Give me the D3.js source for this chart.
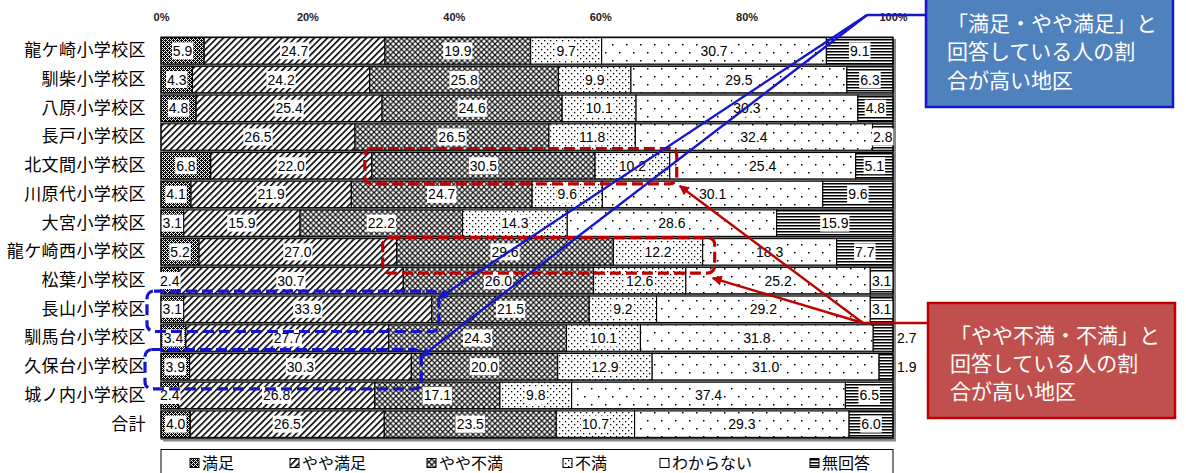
<!DOCTYPE html>
<html>
<head>
<meta charset="utf-8">
<script src="https://cdn.jsdelivr.net/npm/d3@7"></script>
<style>
  body { margin: 0; background: #fff; }
  svg { display: block; }
</style>
</head>
<body>
<svg id="chart" width="1186" height="473"></svg>
<script>
// School districts (rows, top to bottom)
const categories = [
  "龍ケ崎小学校区", "馴柴小学校区", "八原小学校区", "長戸小学校区", "北文間小学校区",
  "川原代小学校区", "大宮小学校区", "龍ケ崎西小学校区", "松葉小学校区", "長山小学校区",
  "馴馬台小学校区", "久保台小学校区", "城ノ内小学校区", "合計"
];
const seriesNames = ["満足", "やや満足", "やや不満", "不満", "わからない", "無回答"];

// Share of answers (%) per district
const satisfied            = [5.9, 4.3, 4.8, 0.0, 6.8, 4.1, 3.1, 5.2, 2.4, 3.1, 3.4, 3.9, 2.4, 4.0];
const somewhatSatisfied    = [24.7, 24.2, 25.4, 26.5, 22.0, 21.9, 15.9, 27.0, 30.7, 33.9, 27.7, 30.3, 26.8, 26.5];
const somewhatDissatisfied = [19.9, 25.8, 24.6, 26.5, 30.5, 24.7, 22.2, 29.6, 26.0, 21.5, 24.3, 20.0, 17.1, 23.5];
const dissatisfied         = [9.7, 9.9, 10.1, 11.8, 10.2, 9.6, 14.3, 12.2, 12.6, 9.2, 10.1, 12.9, 9.8, 10.7];
const dontKnow             = [30.7, 29.5, 30.3, 32.4, 25.4, 30.1, 28.6, 18.3, 25.2, 29.2, 31.8, 31.0, 37.4, 29.3];
const noAnswer             = [9.1, 6.3, 4.8, 2.8, 5.1, 9.6, 15.9, 7.7, 3.1, 3.1, 2.7, 1.9, 6.5, 6.0];

const tickValues = [0, 20, 40, 60, 80, 100];

const seriesValues = [satisfied, somewhatSatisfied, somewhatDissatisfied, dissatisfied, dontKnow, noAnswer];
const rows = categories.map((c, i) => {
  const r = { category: c };
  seriesNames.forEach((s, j) => { r[s] = seriesValues[j][i]; });
  return r;
});

const svg = d3.select("#chart");
svg.append("rect").attr("width", 1186).attr("height", 473).attr("fill", "#fff");

// ---------- fill patterns ----------
const defs = svg.append("defs");
function pattern(id, w, h) {
  const p = defs.append("pattern").attr("id", id)
    .attr("patternUnits", "userSpaceOnUse").attr("width", w).attr("height", h);
  p.append("rect").attr("width", w).attr("height", h).attr("fill", "#fff");
  return p;
}
// 満足: dark fine checker
{
  const p = pattern("pat0", 4, 4);
  [[0,0],[2,0],[1,1],[3,1],[0,2],[2,2],[1,3],[3,3],[1,0],[3,2]].forEach(([a, b]) =>
    p.append("rect").attr("x", a).attr("y", b).attr("width", 1).attr("height", 1).attr("fill", "#000"));
}
// やや満足: forward diagonal stripes
{
  const p = defs.append("pattern").attr("id", "pat1")
    .attr("patternUnits", "userSpaceOnUse").attr("width", 4.6).attr("height", 4.6)
    .attr("patternTransform", "rotate(45)");
  p.append("rect").attr("width", 4.6).attr("height", 4.6).attr("fill", "#fff");
  p.append("rect").attr("x", 0).attr("width", 1.6).attr("height", 4.6).attr("fill", "#000");
}
// やや不満: diagonal lattice
{
  const p = pattern("pat2", 5.5, 5.5);
  p.append("path").attr("d", "M-1,-1L6.5,6.5M6.5,-1L-1,6.5").attr("stroke", "#111").attr("stroke-width", 1.2);
}
// 不満: fine dots
{
  const p = pattern("pat3", 6, 6);
  [[1,1],[4,4]].forEach(([a, b]) =>
    p.append("rect").attr("x", a).attr("y", b).attr("width", 1.3).attr("height", 1.3).attr("fill", "#000"));
}
// わからない: sparse dots
{
  const p = pattern("pat4", 14, 16);
  [[3,4],[10,12]].forEach(([a, b]) =>
    p.append("rect").attr("x", a).attr("y", b).attr("width", 1.5).attr("height", 1.5).attr("fill", "#000"));
}
// 無回答: horizontal lines
{
  const p = pattern("pat5", 3, 3);
  p.append("rect").attr("width", 3).attr("height", 1.5).attr("fill", "#000");
}
const fills = seriesNames.map((s, i) => `url(#pat${i})`);

// ---------- scales ----------
const x = d3.scaleLinear().domain([0, 100]).range([161, 893]);
const y = d3.scaleBand().domain(categories).range([36.5, 438.5]).paddingInner(0.08).paddingOuter(0.04);
const bw = y.bandwidth();

// gridlines
svg.append("g").selectAll("line").data(tickValues.slice(1, -1)).join("line")
  .attr("x1", d => x(d)).attr("x2", d => x(d))
  .attr("y1", 37).attr("y2", 439)
  .attr("stroke", "#b0b0b0").attr("stroke-width", 1);

// top percentage axis
const xAxis = svg.append("g").attr("transform", "translate(0,21)")
  .call(d3.axisTop(x).tickValues(tickValues).tickFormat(d => d + "%").tickSize(0).tickPadding(0));
xAxis.select(".domain").remove();
xAxis.selectAll("text").attr("font-family", "'Liberation Sans', Arial, sans-serif")
  .attr("font-size", 11).attr("font-weight", "bold").attr("fill", "#222");

// category axis
const yAxis = svg.append("g").attr("transform", "translate(146,0)")
  .call(d3.axisLeft(y).tickSize(0).tickPadding(0));
yAxis.select(".domain").remove();
yAxis.selectAll("text").attr("font-family", "'Noto Sans CJK JP', sans-serif")
  .attr("font-size", 17).attr("fill", "#000").attr("letter-spacing", 0.4);

// row shadows
svg.append("g").selectAll("rect").data(rows).join("rect")
  .attr("x", x(0) + 1.5).attr("y", d => y(d.category) + 1.8)
  .attr("width", x(100) - x(0)).attr("height", bw)
  .attr("fill", "#6a6a6a");

// stacked segments
const stacked = d3.stack().keys(seriesNames)(rows);
const segG = svg.append("g");
stacked.forEach((layer, li) => {
  const key = layer.key;
  segG.append("g").selectAll("rect").data(layer.filter(d => d.data[key] > 0)).join("rect")
    .attr("x", d => x(d[0]))
    .attr("y", d => y(d.data.category))
    .attr("width", d => x(d[1]) - x(d[0]))
    .attr("height", bw)
    .attr("fill", fills[li])
    .attr("stroke", "#000").attr("stroke-width", 1.1);
});

// plot frame
svg.append("rect").attr("x", x(0)).attr("y", 37).attr("width", x(100) - x(0)).attr("height", 402)
  .attr("fill", "none").attr("stroke", "#000").attr("stroke-width", 1);
svg.append("path").attr("d", `M${x(0) + 2},440.5H${x(100) + 2}V39`)
  .attr("fill", "none").attr("stroke", "#888").attr("stroke-width", 2);

// value labels
const labG = svg.append("g").attr("font-family", "'Liberation Sans', Arial, sans-serif").attr("font-size", 14);
stacked.forEach((layer, li) => {
  const key = layer.key;
  layer.forEach(d => {
    const v = d.data[key];
    if (v <= 0) return;
    const cy = y(d.data.category) + bw / 2;
    const outside = li === seriesNames.length - 1 && v < 2.8;
    const txt = v.toFixed(1);
    if (outside) {
      labG.append("text").attr("x", x(100) + 4).attr("y", cy).attr("dy", "0.36em")
        .attr("text-anchor", "start").text(txt);
      return;
    }
    const cx = (x(d[0]) + x(d[1])) / 2;
    const g = labG.append("g");
    const t = g.append("text").attr("x", cx).attr("y", cy).attr("dy", "0.36em")
      .attr("text-anchor", "middle").text(txt);
    const w = t.node().getComputedTextLength();
    g.insert("rect", "text").attr("x", cx - w / 2 - 1).attr("y", cy - 8.5)
      .attr("width", w + 2).attr("height", 17).attr("fill", "#fff");
  });
});

// ---------- legend ----------
const legend = svg.append("g");
legend.append("rect").attr("x", 161).attr("y", 449.5).attr("width", 732).attr("height", 40)
  .attr("fill", "#fff").attr("stroke", "#000").attr("stroke-width", 1);
const legendX = [190, 290, 427, 563, 660, 810];
seriesNames.forEach((s, i) => {
  legend.append("rect").attr("x", legendX[i]).attr("y", 458.5).attr("width", 9).attr("height", 9)
    .attr("fill", fills[i]).attr("stroke", "#000").attr("stroke-width", 1);
  legend.append("text").attr("x", legendX[i] + 12).attr("y", 463).attr("dy", "0.36em")
    .attr("font-family", "'Noto Sans CJK JP', sans-serif").attr("font-size", 16).text(s);
});

// ---------- callouts ----------
const highlights = [
  { category: "北文間小学校区", from: 2, to: 3, color: "#C00000", pad: [7, 4, 7, 5] },
  { category: "龍ケ崎西小学校区", from: 2, to: 3, color: "#C00000", pad: [14, 1, 12, 8] },
  { category: "長山小学校区", from: 0, to: 1, color: "#1515CC", pad: [14, 5, 7, 9] },
  { category: "久保台小学校区", from: 0, to: 1, color: "#1515CC", pad: [16, 4, 10, 9] }
];
const boxes = highlights.map(h => {
  const i = categories.indexOf(h.category);
  const x0 = x(stacked[h.from][i][0]) - h.pad[0];
  const x1 = x(stacked[h.to][i][1]) + h.pad[2];
  const y0 = y(h.category) - h.pad[1];
  const y1 = y(h.category) + bw + h.pad[3];
  return { x0, x1, y0, y1, color: h.color };
});
svg.append("g").selectAll("rect").data(boxes).join("rect")
  .attr("x", d => d.x0).attr("y", d => d.y0)
  .attr("width", d => d.x1 - d.x0).attr("height", d => d.y1 - d.y0)
  .attr("rx", 7).attr("ry", 7)
  .attr("fill", "none").attr("stroke", d => d.color)
  .attr("stroke-width", 3.2).attr("stroke-dasharray", "11,5");

function arrowMarker(id, color) {
  defs.append("marker").attr("id", id).attr("viewBox", "0 0 10 10")
    .attr("refX", 9).attr("refY", 5).attr("markerWidth", 13).attr("markerHeight", 10)
    .attr("markerUnits", "userSpaceOnUse").attr("orient", "auto")
    .append("path").attr("d", "M0,0L10,5L0,10z").attr("fill", color);
}
arrowMarker("arrowBlue", "#1515CC");
arrowMarker("arrowRed", "#C00000");

// blue callout
const blueJoin = [867, 15];
svg.append("line").attr("x1", 926).attr("y1", 15).attr("x2", blueJoin[0]).attr("y2", blueJoin[1])
  .attr("stroke", "#1515CC").attr("stroke-width", 2.4);
[boxes[2], boxes[3]].forEach(b => {
  svg.append("line").attr("x1", blueJoin[0]).attr("y1", blueJoin[1])
    .attr("x2", b.x1).attr("y2", b.y0 + 7)
    .attr("stroke", "#1515CC").attr("stroke-width", 2.4).attr("marker-end", "url(#arrowBlue)");
});
svg.append("rect").attr("x", 926).attr("y", -10).attr("width", 247).attr("height", 117)
  .attr("fill", "#4F81BD").attr("stroke", "#1515CC").attr("stroke-width", 2.5);
const blueText = ["「満足・やや満足」と", "回答している人の割", "合が高い地区"];
svg.append("g").selectAll("text").data(blueText).join("text")
  .attr("x", 947).attr("y", (d, i) => 23 + i * 28.5).attr("dy", "0.36em")
  .attr("font-family", "'Noto Sans CJK JP', sans-serif").attr("font-size", 21)
  .attr("fill", "#fff").text(d => d);

// red callout
const redJoin = [863, 323];
svg.append("line").attr("x1", 928).attr("y1", 323).attr("x2", redJoin[0]).attr("y2", redJoin[1])
  .attr("stroke", "#C00000").attr("stroke-width", 2.4);
[[boxes[0], 3, 2], [boxes[1], -2, 5]].forEach(([b, dx, dy]) => {
  svg.append("line").attr("x1", redJoin[0]).attr("y1", redJoin[1])
    .attr("x2", b.x1 + dx).attr("y2", b.y1 + dy)
    .attr("stroke", "#C00000").attr("stroke-width", 2.4).attr("marker-end", "url(#arrowRed)");
});
svg.append("rect").attr("x", 928).attr("y", 303).attr("width", 247).attr("height", 115)
  .attr("fill", "#C0504D").attr("stroke", "#C00000").attr("stroke-width", 2.5);
const redText = ["「やや不満・不満」と", "回答している人の割", "合が高い地区"];
svg.append("g").selectAll("text").data(redText).join("text")
  .attr("x", 950).attr("y", (d, i) => 335 + i * 28).attr("dy", "0.36em")
  .attr("font-family", "'Noto Sans CJK JP', sans-serif").attr("font-size", 21)
  .attr("fill", "#fff").text(d => d);
</script>
</body>
</html>
